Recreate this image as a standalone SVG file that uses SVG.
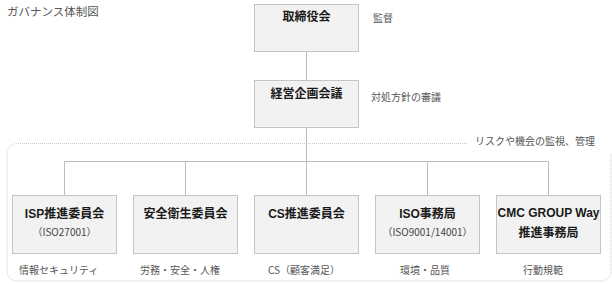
<svg xmlns="http://www.w3.org/2000/svg" width="612" height="284" viewBox="0 0 612 284">
<style>
.box{fill:#f2f2f2;stroke:#c4c4c4;stroke-width:1}
.t{font-family:"Liberation Sans","Noto Sans CJK JP",sans-serif;font-weight:bold;font-size:12px;fill:#1a1a1a;text-anchor:middle}
.s{font-family:"Noto Sans CJK JP",sans-serif;font-size:10px;fill:#444;text-anchor:middle}
.l{font-family:"Noto Sans CJK JP",sans-serif;font-size:10px;fill:#555}
.c{fill:none;stroke:#bdbdbd;stroke-width:1}
</style>
<rect width="612" height="284" fill="#ffffff"/>
<text class="l" x="7" y="16" style="font-size:11.5px">ガバナンス体制図</text>
<path d="M467,143.5 H17 A10,10 0 0 0 7,153.5 V271 A10,10 0 0 0 17,281 H601 A10,10 0 0 0 611,271 V153.5" fill="none" stroke="#c8c8c8" stroke-width="1" stroke-dasharray="1 1"/>
<text class="l" x="475" y="145">リスクや機会の監視、管理</text>
<g id="connectors">
<path class="c" d="M306.5,52 V80"/>
<path class="c" d="M306.5,128 V195"/>
<path class="c" d="M64.5,195 V161.5 H548.5 V195"/>
<path class="c" d="M185.5,161.5 V195"/>
<path class="c" d="M427.5,161.5 V195"/>
</g>
<g id="board">
<rect class="box" x="254.5" y="4.5" width="104" height="47"/>
<text class="t" x="306.5" y="21">取締役会</text>
<text class="l" x="373" y="22">監督</text>
</g>
<g id="management">
<rect class="box" x="254.5" y="80.5" width="104" height="47"/>
<text class="t" x="306.5" y="98">経営企画会議</text>
<text class="l" x="371" y="101">対処方針の審議</text>
</g>
<g id="isp">
<rect class="box" x="12.5" y="195.5" width="104" height="58"/>
<text class="t" x="64.5" y="218">ISP推進委員会</text>
<text class="s" x="64.5" y="236">（ISO27001）</text>
<text class="l" x="19" y="274">情報セキュリティ</text>
</g>
<g id="safety">
<rect class="box" x="133.5" y="195.5" width="104" height="58"/>
<text class="t" x="185.5" y="218">安全衛生委員会</text>
<text class="l" x="140" y="274">労務・安全・人権</text>
</g>
<g id="cs">
<rect class="box" x="254.5" y="195.5" width="104" height="58"/>
<text class="t" x="306.5" y="218">CS推進委員会</text>
<text class="l" x="268" y="274">CS（顧客満足）</text>
</g>
<g id="iso">
<rect class="box" x="375.5" y="195.5" width="104" height="58"/>
<text class="t" x="427.5" y="218">ISO事務局</text>
<text class="s" x="427.5" y="236">（ISO9001/14001）</text>
<text class="l" x="400" y="274">環境・品質</text>
</g>
<g id="cmc">
<rect class="box" x="496.5" y="195.5" width="104" height="58"/>
<text class="t" x="548.5" y="217">CMC GROUP Way</text>
<text class="t" x="548.5" y="237">推進事務局</text>
<text class="l" x="523" y="274">行動規範</text>
</g>
</svg>
